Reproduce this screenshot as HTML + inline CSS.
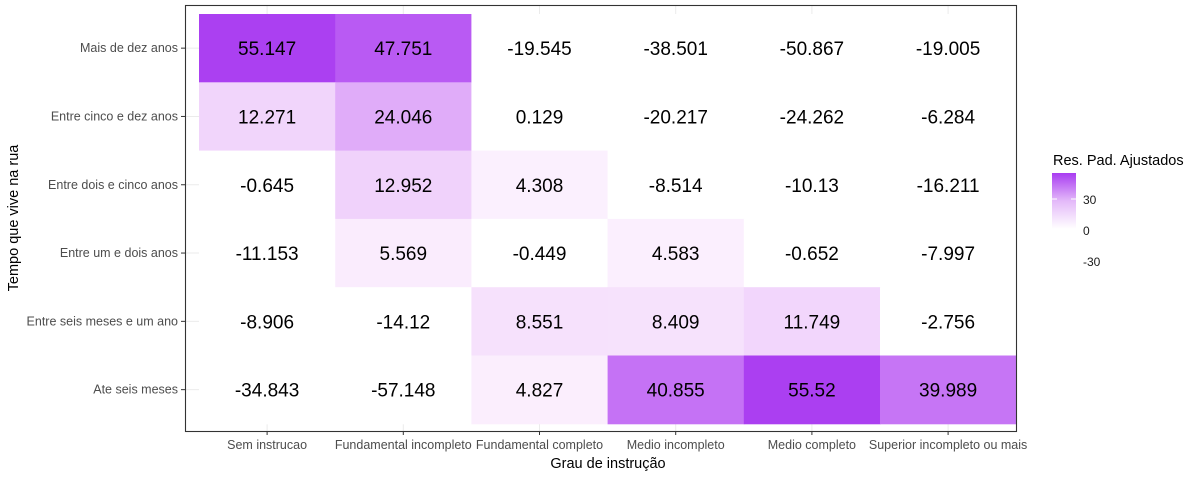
<!DOCTYPE html>
<html><head><meta charset="utf-8"><style>
body{margin:0;background:#fff;font-family:"Liberation Sans",sans-serif;}
svg text{font-family:"Liberation Sans",sans-serif;}
</style></head><body>
<svg id="chart" width="1200" height="477" xmlns="http://www.w3.org/2000/svg">
<rect width="1200" height="477" fill="#fff"/>
<g id="grid"></g><g id="cells"></g><g id="labels"></g><g id="axes"></g>
<rect x="185.5" y="5.5" width="831" height="426" fill="none" stroke="#333" stroke-width="1.1"/>
<text x="608" y="468" font-size="14.5" text-anchor="middle" fill="#000">Grau de instrução</text>
<text transform="translate(18,218) rotate(-90)" font-size="14.5" text-anchor="middle" fill="#000">Tempo que vive na rua</text>
<g>
<text x="1053" y="165" font-size="14.5" fill="#000">Res. Pad. Ajustados</text>
<defs><linearGradient id="lg" x1="0" y1="1" x2="0" y2="0"><stop offset="0" stop-color="#fff"/><stop offset="0.5" stop-color="#e3b9f9"/><stop offset="1" stop-color="#a93cf1"/></linearGradient></defs>
<rect x="1052" y="173" width="24" height="56" fill="url(#lg)"/>
<line x1="1052" y1="199" x2="1057" y2="199" stroke="#fff"/><line x1="1071" y1="199" x2="1076" y2="199" stroke="#fff"/>
<text x="1083" y="204" font-size="12" fill="#1a1a1a">30</text>
<text x="1083" y="235" font-size="12" fill="#1a1a1a">0</text>
<text x="1083" y="266" font-size="12" fill="#1a1a1a">-30</text>
</g>
</svg>
<script>
const cols=["Sem instrucao","Fundamental incompleto","Fundamental completo","Medio incompleto","Medio completo","Superior incompleto ou mais"];
const rows=["Mais de dez anos","Entre cinco e dez anos","Entre dois e cinco anos","Entre um e dois anos","Entre seis meses e um ano","Ate seis meses"];
const row0=[55.147,47.751,-19.545,-38.501,-50.867,-19.005];
const row1=[12.271,24.046,0.129,-20.217,-24.262,-6.284];
const row2=[-0.645,12.952,4.308,-8.514,-10.13,-16.211];
const row3=[-11.153,5.569,-0.449,4.583,-0.652,-7.997];
const row4=[-8.906,-14.12,8.551,8.409,11.749,-2.756];
const row5=[-34.843,-57.148,4.827,40.855,55.52,39.989];
const values=[row0,row1,row2,row3,row4,row5];
const NS="http://www.w3.org/2000/svg";
const cw=136.2, rh=68.3, x0=199, y0=14;
function xs(i){return x0+i*cw;}
function ys(j){return y0+j*rh;}
const vmax=57;
function color(v){const t=Math.max(0,Math.min(1,v/vmax));
 const r=Math.round(255-87*Math.pow(t,1.2)),g=Math.round(255-197*Math.pow(t,1.0)),b=Math.round(255-14*Math.pow(t,0.9));return `rgb(${r},${g},${b})`;}
function mk(tag,a,p){const e=document.createElementNS(NS,tag);for(const k in a)e.setAttribute(k,a[k]);document.getElementById(p).appendChild(e);return e;}
cols.forEach((c,i)=>{const cx=xs(i)+cw/2;
 const l=mk('line',{x1:cx,x2:cx,y1:5,y2:431,stroke:'#ebebeb','stroke-width':1},'grid');
 
 
 const tk=mk('line',{x1:cx,x2:cx,y1:431,y2:435,stroke:'#333'},'axes');
 
 
 const t=mk('text',{x:cx,y:449,'font-size':12.5,'text-anchor':'middle',fill:'#4d4d4d'},'axes');t.textContent=c;
 
 
});
rows.forEach((r,j)=>{const cy=ys(j)+rh/2;
 const l=mk('line',{x1:185,x2:1017,y1:cy,y2:cy,stroke:'#ebebeb','stroke-width':1},'grid');
 
 
 const tk=mk('line',{x1:181,x2:185,y1:cy,y2:cy,stroke:'#333'},'axes');
 
 
 const t=mk('text',{x:178,y:cy+4,'font-size':12.5,'text-anchor':'end',fill:'#4d4d4d'},'axes');t.textContent=r;
 
 
 values[j].forEach((v,i)=>{
  const rc=mk('rect',{x:xs(i),y:ys(j),width:cw+0.5,height:rh+0.5,fill:color(v)},'cells');
  
  
  const tx=mk('text',{x:xs(i)+cw/2,y:cy+7,'font-size':19,'text-anchor':'middle',fill:'#000'},'labels');tx.textContent=String(v);
  
  
 });
});
</script>
</body></html>
